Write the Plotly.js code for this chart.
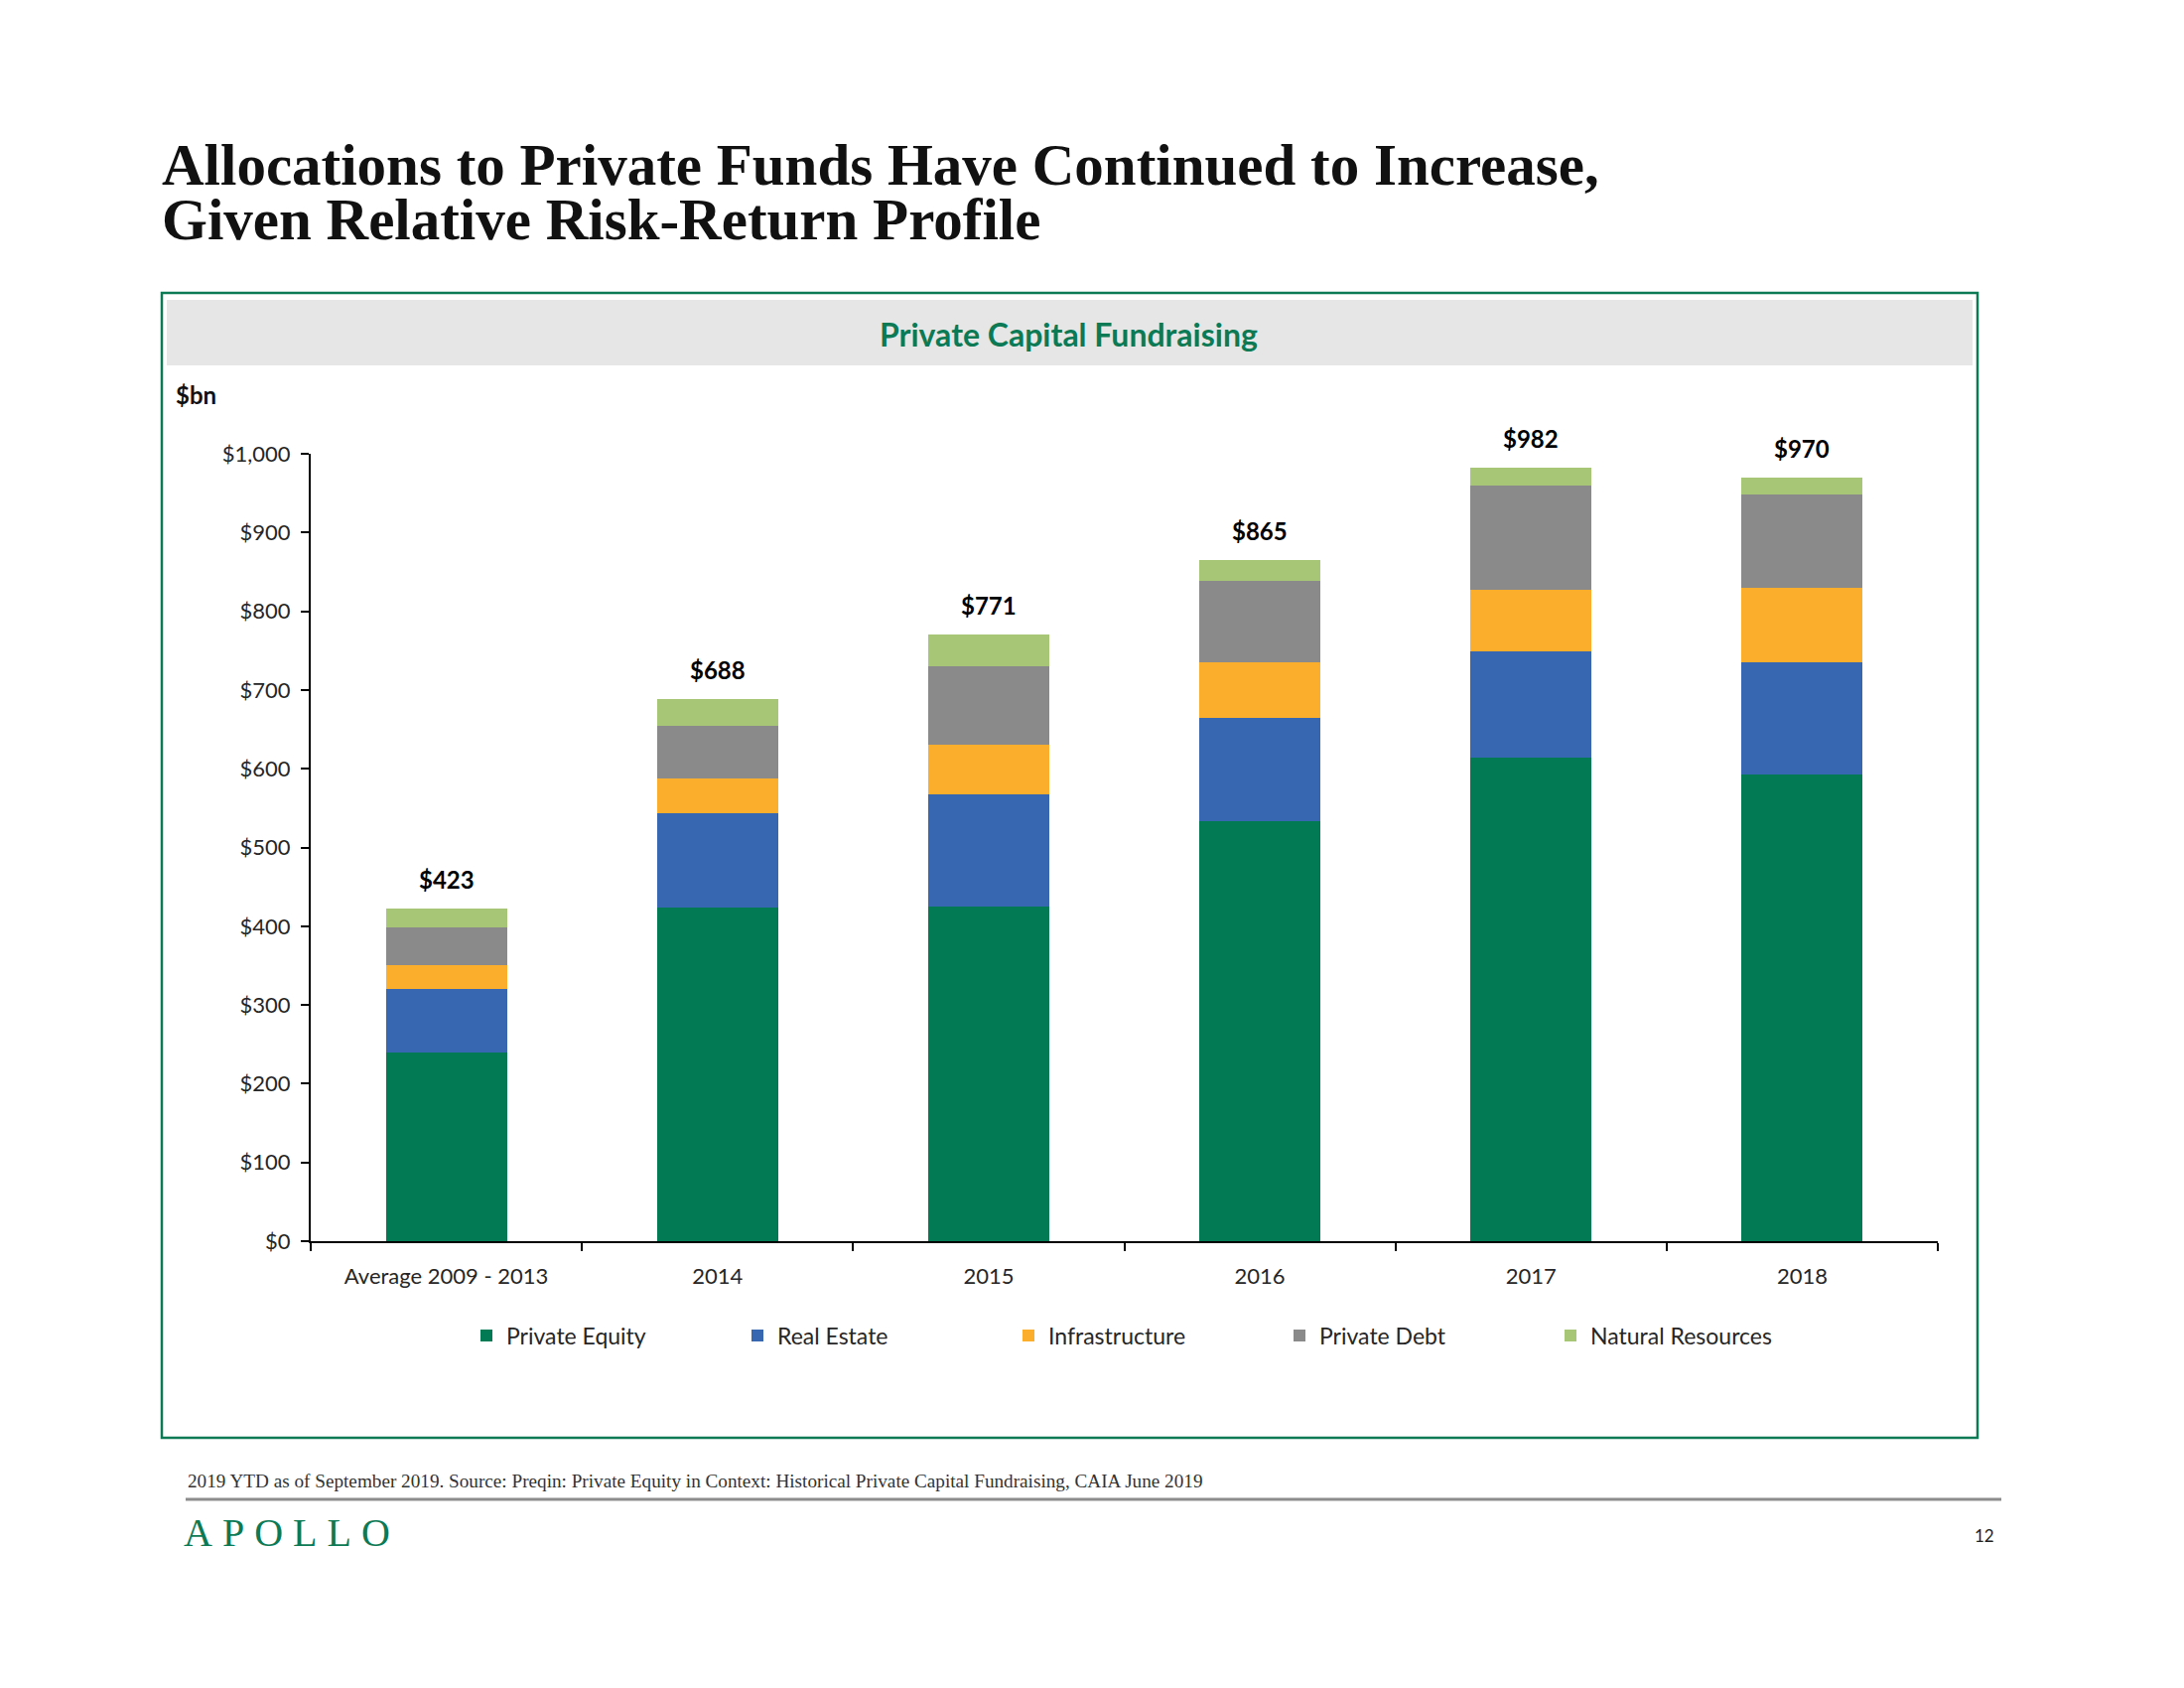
<!DOCTYPE html>
<html>
<head>
<meta charset="utf-8">
<script src="https://cdn.plot.ly/plotly-3.0.1.min.js"></script>
<style>
  html, body { margin: 0; padding: 0; background: #ffffff; }
  #chart { width: 2200px; height: 1700px; }
</style>
</head>
<body>
<div id="chart"></div>
<script>
// ---- Data ($bn) ----
const categories = ['Average 2009 - 2013', '2014', '2015', '2016', '2017', '2018'];
const seriesNames = ['Private Equity', 'Real Estate', 'Infrastructure', 'Private Debt', 'Natural Resources'];
const privateEquity    = [240, 424, 425, 533, 614, 593];
const realEstate       = [80, 119, 142, 132, 135, 142];
const infrastructure   = [31, 45, 63, 70, 78, 95];
const privateDebt      = [48, 66, 100, 104, 133, 118];
const naturalResources = [24, 34, 41, 26, 22, 22];
const totals           = [423, 688, 771, 865, 982, 970];
const yTickValues      = [0, 100, 200, 300, 400, 500, 600, 700, 800, 900, 1000];
const yTickLabels      = ['$0', '$100', '$200', '$300', '$400', '$500', '$600', '$700', '$800', '$900', '$1,000'];

// ---- Styling ----
const colors = ['#027B54', '#3767B1', '#FBAE2C', '#8A8A8A', '#A8C776'];
const GREEN = '#0B7A55';
const SANS = 'Lato, "Open Sans", sans-serif';
const SERIF = '"Liberation Serif", "DejaVu Serif", serif';

const W = 2200, H = 1700;
const X = p => p / W;          // page pixel -> paper x
const Y = p => 1 - p / H;      // page pixel -> paper y

const seriesValues = [privateEquity, realEstate, infrastructure, privateDebt, naturalResources];
const traces = seriesNames.map((name, i) => ({
  type: 'bar',
  name: name,
  x: categories,
  y: seriesValues[i],
  marker: { color: colors[i], line: { width: 0 } },
  hoverinfo: 'skip'
}));

const totalLabels = categories.map((c, i) => ({
  xref: 'x', yref: 'y', x: i, y: totals[i],
  text: '$' + totals[i], showarrow: false,
  yanchor: 'bottom', yshift: 13,
  font: { family: SANS, size: 24, color: '#000000', weight: 'bold' }
}));

const pageTexts = [
  { x: X(161), y: Y(131), xanchor: 'left', yanchor: 'top', align: 'left',
    text: '<b>Allocations to Private Funds Have Continued to Increase,</b><br><b>Given Relative Risk-Return Profile</b>',
    font: { family: SERIF, size: 59, color: '#111111' } },
  { x: X(1076), y: Y(336), xanchor: 'center', yanchor: 'middle',
    text: '<b>Private Capital Fundraising</b>',
    font: { family: SANS, size: 32, color: GREEN } },
  { x: X(175), y: Y(397), xanchor: 'left', yanchor: 'middle',
    text: '<b>$bn</b>',
    font: { family: SANS, size: 24, color: '#111111' } },
  { x: X(187), y: Y(1491), xanchor: 'left', yanchor: 'middle',
    text: '2019 YTD as of September 2019. Source: Preqin: Private Equity in Context: Historical Private Capital Fundraising, CAIA June 2019',
    font: { family: SERIF, size: 19.2, color: '#333333' } },
  { x: X(294), y: Y(1543), xanchor: 'center', yanchor: 'middle',
    text: 'APOLLO',
    font: { family: SERIF, size: 40, color: GREEN } },
  { x: X(1999), y: Y(1546), xanchor: 'center', yanchor: 'middle',
    text: '12',
    font: { family: SANS, size: 17, color: '#222222' } }
].map(a => Object.assign({ xref: 'paper', yref: 'paper', showarrow: false }, a));

const shapes = [
  // chart frame
  { type: 'rect', xref: 'paper', yref: 'paper', x0: X(163), x1: X(1992), y0: Y(1448), y1: Y(295),
    line: { color: GREEN, width: 2.5 }, fillcolor: 'rgba(0,0,0,0)', layer: 'below' },
  // header band
  { type: 'rect', xref: 'paper', yref: 'paper', x0: X(168), x1: X(1987), y0: Y(368), y1: Y(302),
    line: { width: 0 }, fillcolor: '#E6E6E6', layer: 'below' },
  // footer rule
  { type: 'line', xref: 'paper', yref: 'paper', x0: X(187), x1: X(2016), y0: Y(1510), y1: Y(1510),
    line: { color: '#8C8C8C', width: 3 } }
];

const layout = {
  width: W, height: H,
  margin: { l: 0, r: 0, t: 0, b: 0 },
  paper_bgcolor: '#ffffff', plot_bgcolor: '#ffffff',
  barmode: 'stack',
  bargap: 0.553,
  showlegend: true,
  legend: {
    orientation: 'h', traceorder: 'normal',
    x: X(470), y: Y(1345), xanchor: 'left', yanchor: 'middle',
    entrywidth: 228, entrywidthmode: 'pixels',
    font: { family: SANS, size: 23, color: '#262626' },
    bgcolor: 'rgba(0,0,0,0)'
  },
  xaxis: {
    type: 'category',
    domain: [X(313), X(1952)],
    range: [-0.5, 5.5], autorange: false,
    showline: true, linecolor: '#000000', linewidth: 2,
    ticks: 'outside', tickson: 'boundaries', ticklen: 8, tickwidth: 2, tickcolor: '#000000',
    ticklabelstandoff: 15,
    showgrid: false, zeroline: false,
    tickfont: { family: SANS, size: 22, color: '#262626' }
  },
  yaxis: {
    domain: [Y(1250), Y(457)],
    range: [0, 1000], autorange: false,
    tickmode: 'array', tickvals: yTickValues, ticktext: yTickLabels,
    showline: true, linecolor: '#000000', linewidth: 2,
    ticks: 'outside', ticklen: 8, tickwidth: 2, tickcolor: '#000000',
    ticklabelstandoff: 6,
    showgrid: false, zeroline: false,
    tickfont: { family: SANS, size: 22, color: '#262626' }
  },
  annotations: totalLabels.concat(pageTexts),
  shapes: shapes,
  font: { family: SANS }
};

Plotly.newPlot('chart', traces, layout, { displayModeBar: false, staticPlot: true }).then(() => {
  document.querySelectorAll('.annotation-text').forEach(el => {
    if (el.textContent === 'APOLLO') el.style.letterSpacing = '10px';
    if (el.textContent.indexOf('Allocations') === 0) {
      // tighten the title's line spacing to match the slide
      const lines = el.querySelectorAll('tspan.line');
      if (lines.length > 1) lines[1].setAttribute('dy', '0.93em');
    }
  });
});
</script>
</body>
</html>
